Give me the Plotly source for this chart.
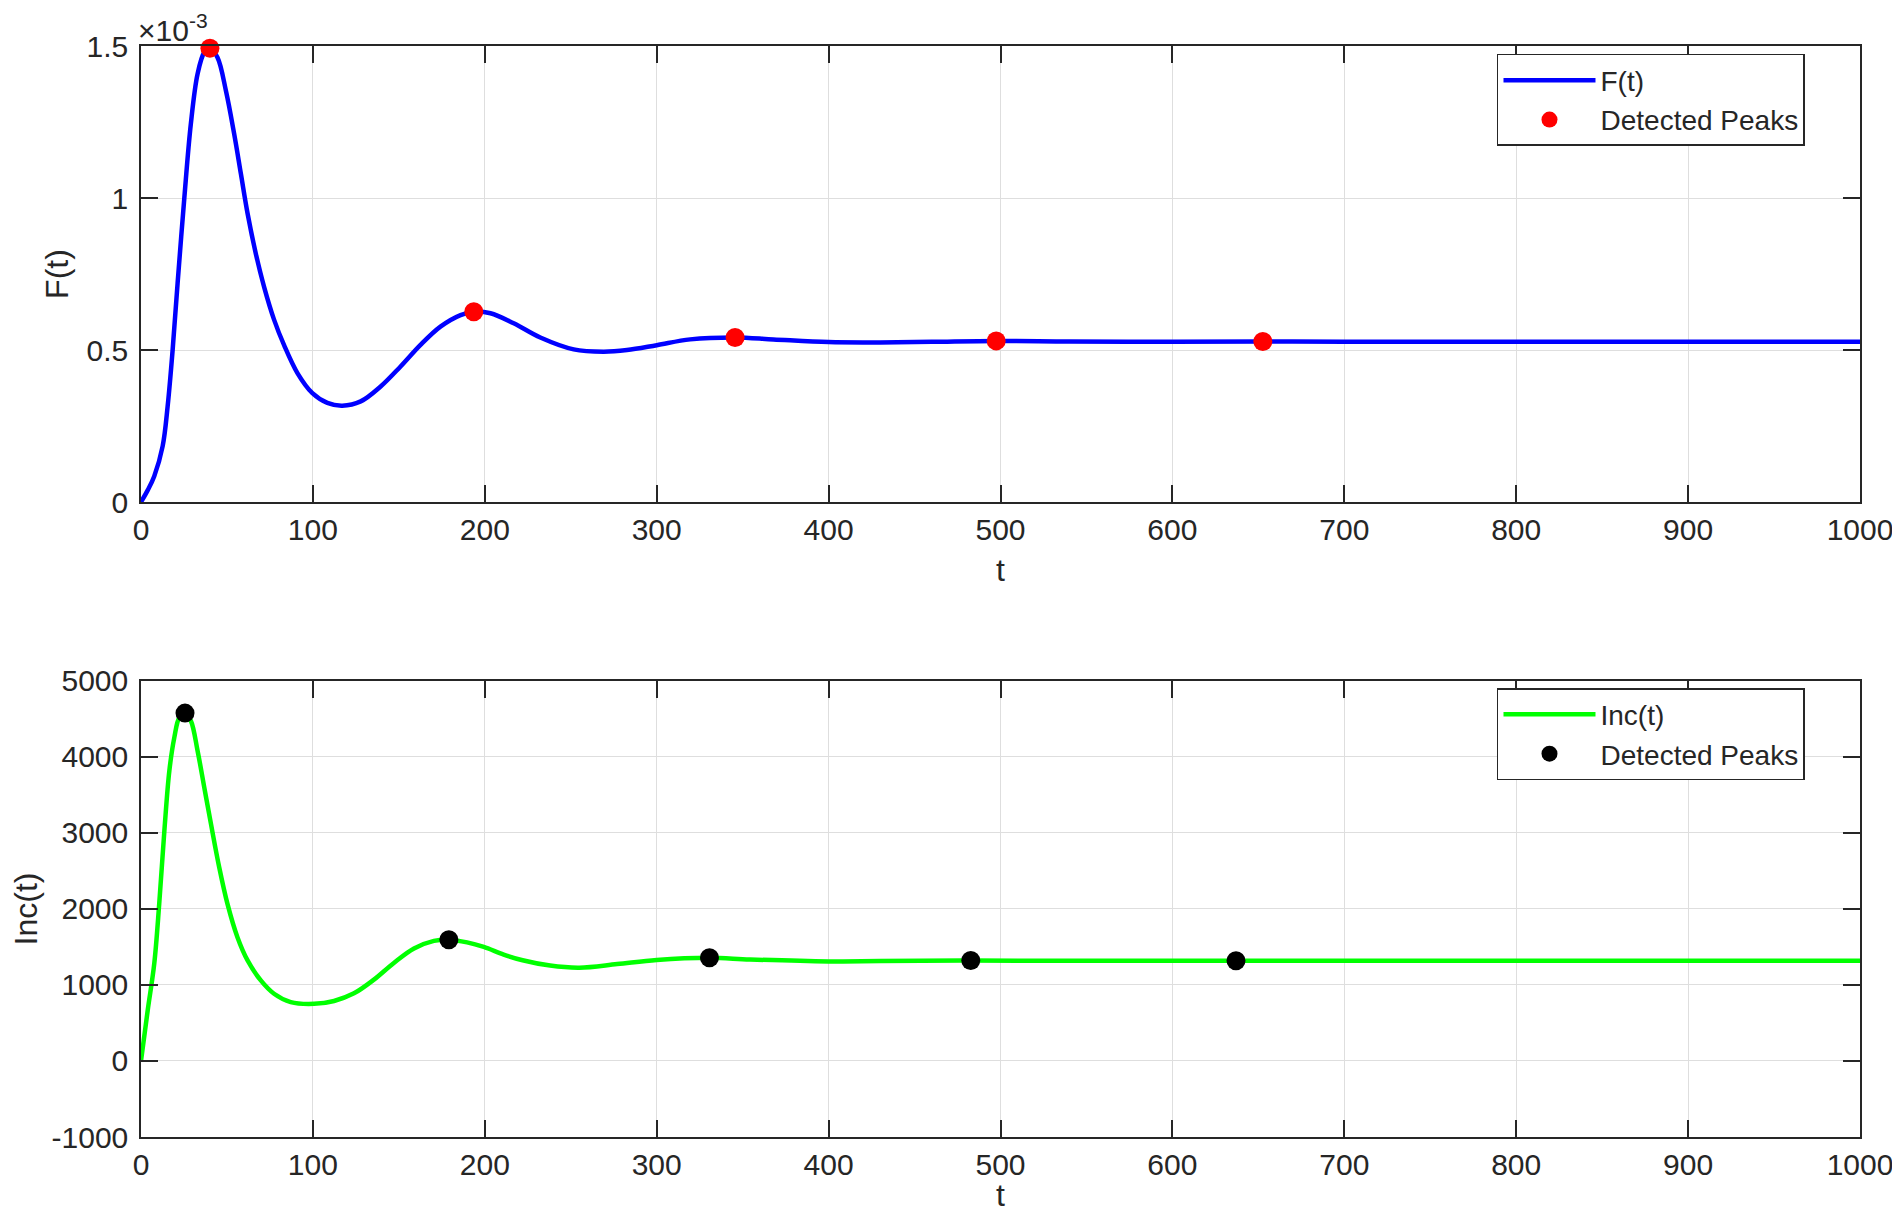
"""
F(t) и Inc(t) с найденными пиками — две панели друг под другом.
"""

import plotly.graph_objects as go
from plotly.subplots import make_subplots


# F(t), значения в единицах 1e-3 (как на оси)
T_F = [0, 4, 7.7, 12.6, 15.5, 18.4, 21.3, 25.2, 29, 32.9, 36.8, 40.1, 44.5, 49.4,
       54.2, 58.1, 62, 66.8, 71.6, 77.4, 83.3, 91, 99.7, 108.4, 117.1, 127.8,
       139.4, 151, 162.6, 174.2, 185.9, 193.6, 203.3, 216.8, 232.3, 251.7, 269.1,
       282.7, 300, 319.5, 345.6, 367.9, 400, 430, 460, 497.5, 540, 600, 652.6,
       700, 800, 900, 1000]
F_VALS = [0, 0.04, 0.085, 0.184, 0.315, 0.5, 0.72, 1.0, 1.244, 1.408, 1.479,
          1.493, 1.462, 1.353, 1.211, 1.08, 0.949, 0.817, 0.708, 0.600, 0.515,
          0.424, 0.358, 0.326, 0.317, 0.331, 0.38, 0.446, 0.517, 0.577, 0.615,
          0.626, 0.621, 0.588, 0.541, 0.502, 0.4945, 0.5, 0.516, 0.535, 0.5415,
          0.535, 0.526, 0.525, 0.527, 0.530, 0.528, 0.527, 0.528, 0.527, 0.527,
          0.527, 0.527]
F_PEAK_T = [40.1, 193.6, 345.6, 497.5, 652.6]
F_PEAK_VALS = [1.493, 0.626, 0.5415, 0.530, 0.528]

# Inc(t)
T_INC = [0, 3.9, 7.7, 10.6, 13.6, 16.5, 19.4, 22.3, 25.6, 29, 32.9, 36.8, 40.7,
         45.5, 50.3, 56.1, 62, 69.7, 77.4, 87.1, 100.7, 112.3, 123.9, 135.5,
         147.1, 158.8, 170.4, 179.1, 189.7, 199.4, 211, 222, 238, 255, 277, 300,
         330.7, 354.3, 400, 430, 482.7, 550, 637, 700, 800, 900, 1000]
INC_VALS = [0, 666, 1279, 2067, 3031, 3820, 4258, 4520, 4577, 4477, 4082, 3600,
            3119, 2549, 2067, 1629, 1323, 1060, 885, 775, 752, 790, 890, 1070,
            1290, 1480, 1580, 1596, 1560, 1500, 1400, 1325, 1255, 1228, 1275,
            1330, 1358, 1336, 1310, 1314, 1321, 1318, 1319, 1318, 1318, 1318, 1318]
INC_PEAK_T = [25.6, 179.1, 330.7, 482.7, 637]
INC_PEAK_VALS = [4577, 1596, 1358, 1321, 1319]

X_TICKS = list(range(0, 1001, 100))
F_TICKS = [0, 0.5, 1, 1.5]
F_TICK_TEXT = ['0', '0.5', '1', '1.5']
INC_TICKS = [-1000, 0, 1000, 2000, 3000, 4000, 5000]
INC_TICK_TEXT = ['-1000', '0', '1000', '2000', '3000', '4000', '5000']

FONT = 'Helvetica, Liberation Sans, Arial, sans-serif'
AXIS_COLOR = '#262626'
GRID_COLOR = '#dedede'

fig = make_subplots(rows=2, cols=1, vertical_spacing=0.164)

# верхняя панель
fig.add_trace(go.Scatter(x=T_F, y=F_VALS, mode='lines', name='F(t)',
                         line=dict(color='#0000ff', width=4.5, shape='spline'),
                         legend='legend'), row=1, col=1)
fig.add_trace(go.Scatter(x=F_PEAK_T, y=F_PEAK_VALS, mode='markers', name='Detected Peaks',
                         marker=dict(color='#ff0000', size=19), cliponaxis=False,
                         legend='legend'), row=1, col=1)

# нижняя панель
fig.add_trace(go.Scatter(x=T_INC, y=INC_VALS, mode='lines', name='Inc(t)',
                         line=dict(color='#00ff00', width=4.5, shape='spline'),
                         legend='legend2'), row=2, col=1)
fig.add_trace(go.Scatter(x=INC_PEAK_T, y=INC_PEAK_VALS, mode='markers', name='Detected Peaks',
                         marker=dict(color='#000000', size=19), cliponaxis=False,
                         legend='legend2'), row=2, col=1)

axis_style = dict(
    showline=True, linecolor=AXIS_COLOR, linewidth=1.5, mirror='ticks',
    ticks='inside', ticklen=17, tickwidth=1.5, tickcolor=AXIS_COLOR,
    showgrid=True, gridcolor=GRID_COLOR, gridwidth=1, zeroline=False,
    tickfont=dict(size=30, color=AXIS_COLOR, family=FONT),
    ticklabeloverflow='allow', automargin=False,
)
title_font = dict(size=32, color=AXIS_COLOR, family=FONT)

fig.update_xaxes(range=[0, 1000], tickvals=X_TICKS, ticklabelstandoff=0, **axis_style)
fig.update_xaxes(title=dict(text='t', font=title_font, standoff=14), row=1, col=1)
fig.update_xaxes(title=dict(text='t', font=title_font, standoff=22), row=2, col=1)

fig.update_yaxes(range=[0, 1.5], tickvals=F_TICKS, ticktext=F_TICK_TEXT,
                 ticklabelstandoff=5,
                 title=dict(text='F(t)', font=title_font, standoff=8),
                 row=1, col=1, **axis_style)
fig.update_yaxes(range=[-1000, 5000], tickvals=INC_TICKS, ticktext=INC_TICK_TEXT,
                 ticklabelstandoff=5,
                 title=dict(text='Inc(t)', font=title_font, standoff=14),
                 row=2, col=1, **axis_style)

fig.update_layout(
    xaxis=dict(domain=[0, 1]),
    yaxis=dict(domain=[0.582, 1]),
    xaxis2=dict(domain=[0, 1]),
    yaxis2=dict(domain=[0, 0.418]),
)

legend_style = dict(
    xanchor='right', yanchor='top', x=0.968,
    bgcolor='white', bordercolor=AXIS_COLOR, borderwidth=1.5,
    font=dict(size=28, color=AXIS_COLOR, family=FONT),
    itemwidth=92, tracegroupgap=0,
)
fig.update_layout(
    legend=dict(y=0.9927, **legend_style),
    legend2=dict(y=0.4115, **legend_style),
)

# множитель оси F(t)
fig.add_annotation(text='×10<sup>-3</sup>', xref='paper', yref='paper', x=-0.003, y=1,
                   xanchor='left', yanchor='bottom', yshift=-3, showarrow=False,
                   font=dict(size=30, color=AXIS_COLOR, family=FONT))

fig.update_layout(
    width=1884, height=1205,
    margin=dict(l=133, r=32, t=38, b=76),
    plot_bgcolor='white', paper_bgcolor='white',
    font=dict(family=FONT, color=AXIS_COLOR),
    showlegend=True,
)

fig.write_html("out.html")
